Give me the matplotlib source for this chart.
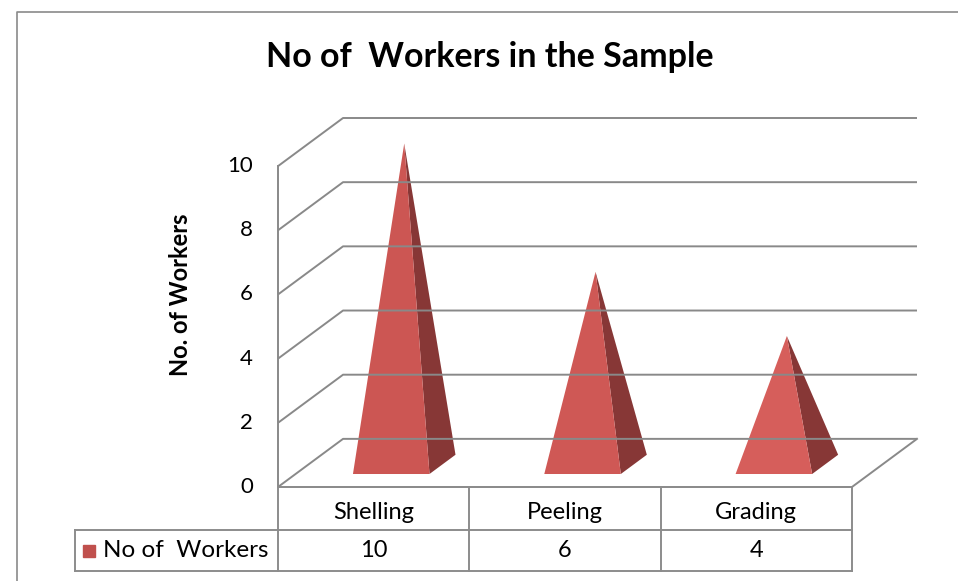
import matplotlib.pyplot as plt
from matplotlib.patches import Polygon
from matplotlib.lines import Line2D

# data
categories = ['Shelling', 'Peeling', 'Grading']
workers = [10, 6, 4]
y_ticks = [0, 2, 4, 6, 8, 10]
series_label = 'No of  Workers'
chart_title = 'No of  Workers in the Sample'
y_title = 'No. of Workers'

W, H = 958, 581
plt.rcParams['font.family'] = ['Lato', 'DejaVu Sans']
fig = plt.figure(figsize=(W / 100, H / 100), dpi=100)

# oblique "3d" offset for depth, in data units
DX = 0.34
DY = 1.5
n = len(categories)
ymax = max(y_ticks)

ax = fig.add_axes([278 / W, 1 - 487 / H, (917 - 278) / W, (487 - 118) / H])
ax.set_xlim(0, n + DX)
ax.set_ylim(0, ymax + DY)
ax.axis('off')


def proj(x, y, d):
    return x + DX * d, y + DY * d


grid_c = '#898989'
lw = 1.4

# walls: gridlines on back wall + diagonals on the side wall
for t in y_ticks:
    a, b, c = proj(0, t, 0), proj(0, t, 1), proj(n, t, 1)
    ax.plot([a[0], b[0], c[0]], [a[1], b[1], c[1]], color=grid_c, lw=lw,
            clip_on=False, solid_capstyle='butt')
    ax.text(-0.13, t, str(t), ha='right', va='center', fontsize=16)
ax.plot([0, 0], [0, ymax], color=grid_c, lw=lw, clip_on=False)

# floor front / right edge
a, b, c = proj(0, 0, 0), proj(n, 0, 0), proj(n, 0, 1)
ax.plot([a[0], b[0], c[0]], [a[1], b[1], c[1]], color=grid_c, lw=lw, clip_on=False)

# pyramids
hw = 0.2
d0, d1 = 0.27, 0.67
dm = (d0 + d1) / 2
front_cols = ['#cc5653', '#cf5855', '#d65e5b']
side_col = '#873736'
for i, v in enumerate(workers):
    cx = i + 0.5
    apex = proj(cx, v, dm)
    fl, fr, br = proj(cx - hw, 0, d0), proj(cx + hw, 0, d0), proj(cx + hw, 0, d1)
    ax.add_patch(Polygon([fr, br, apex], closed=True, fc=side_col, ec='none', clip_on=False))
    ax.add_patch(Polygon([fl, fr, apex], closed=True, fc=front_cols[i], ec='none', clip_on=False))

# data table under the floor
r1, r2 = -1.34, -2.62
xl = -1.061
tc = '#8c8c8c'
ax.plot([xl, n], [r1, r1], color=tc, lw=lw, clip_on=False)
ax.plot([xl, n], [r2, r2], color=tc, lw=lw, clip_on=False)
for k in range(n + 1):
    ax.plot([k, k], [0, r2], color=tc, lw=lw, clip_on=False)
ax.plot([xl, xl], [r1, r2], color=tc, lw=lw, clip_on=False)
for i, (cat, v) in enumerate(zip(categories, workers)):
    ax.text(i + 0.5, -0.8, cat, ha='center', va='center', fontsize=17)
    ax.text(i + 0.5, (r1 + r2) / 2, str(v), ha='center', va='center', fontsize=17)
ax.plot([-0.99], [(r1 + r2) / 2], marker='s', ms=9, color='#c0504d', clip_on=False)
ax.text(-0.915, (r1 + r2) / 2, series_label, ha='left', va='center', fontsize=17.5)

# titles
fig.text(490 / W, 1 - 57 / H, chart_title, ha='center', va='center',
         fontsize=24.5, fontweight='bold')
fig.text(181 / W, 1 - 295 / H, y_title, ha='center', va='center',
         rotation=90, fontsize=17, fontweight='bold')

# outer chart border
fig.add_artist(Line2D([17 / W, 17 / W, 1], [0, 1 - 12 / H, 1 - 12 / H],
                      color='#8a8a8a', lw=1.2))

fig.savefig('out.png', dpi=100)
